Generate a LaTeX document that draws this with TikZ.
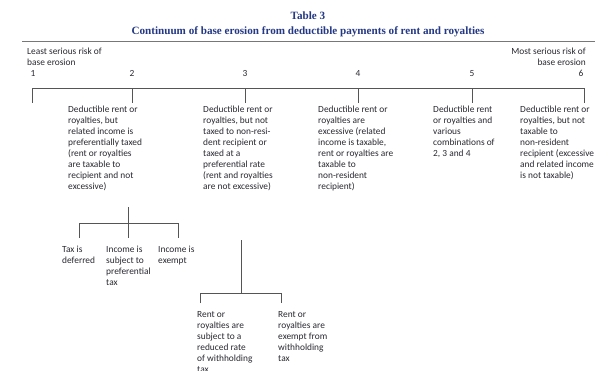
\documentclass[tikz,border=0pt]{standalone}
\usepackage{fontspec}
\setmainfont{Carlito}
\newfontfamily\titlefont{Liberation Serif}
\usepackage{xcolor}
\usepackage{tikz}
\usetikzlibrary{calc}
\usetikzlibrary{positioning}
\definecolor{titleblue}{RGB}{36,56,132}
\definecolor{txtgray}{RGB}{40,40,48}
\definecolor{linegray}{RGB}{85,85,85}
\tikzset{
	box/.style={anchor=north west,align=left,inner sep=0pt,text=txtgray,font=\fontsize{8}{9.4}\selectfont},
	num/.style={anchor=base,inner sep=0pt,text=txtgray,font=\fontsize{8}{9.4}\selectfont},
	hd/.style={anchor=base,inner sep=0pt,text=titleblue,font=\titlefont\bfseries\fontsize{9.5}{11}\selectfont},
	link/.style={line width=0.7pt,linegray},
}
\begin{document}
\begin{tikzpicture}[x=0.03cm,y=-0.03cm]
		\useasboundingbox (0,0) rectangle (599,370);
		\node[hd] (tbl) at (308,20) {Table 3};
		\node[hd] (ttl) at (308,35) {Continuum of base erosion from deductible payments of rent and royalties};
		\coordinate (rl) at (22,41.5);
		\coordinate (rr) at (595,41.5);
		\draw[line width=0.6pt,linegray!80] (rl)--(rr);
		\node[box] (least) at (27,47.5) {Least serious risk of\\base erosion};
		\node[box,anchor=north east,align=right] (most) at (586,47.5) {Most serious risk of\\base erosion};
		\node[num] (n1) at (33,77) {1};
		\node[num] (n2) at (132,77) {2};
		\node[num] (n3) at (245,77) {3};
		\node[num] (n4) at (358,77) {4};
		\node[num] (n5) at (472,77) {5};
		\node[num] (n6) at (581,77) {6};
		% scale line with ticks
		\foreach \i/\x in {1/32,2/132,3/245,4/358,5/472,6/584}{
			\coordinate (t\i) at (\x,88.5);
			\coordinate (d\i) at (\x,103.5);
			\draw[link] (t\i)--(d\i);
		}
		\draw[link] (t1)--(t6);
		\node[box] (b2) at (68,106) {Deductible rent or\\royalties, but\\related income is\\preferentially taxed\\(rent or royalties\\are taxable to\\recipient and not\\excessive)};
		\node[box] (b3) at (203,106) {Deductible rent or\\royalties, but not\\taxed to non-resi-\\dent recipient or\\taxed at a\\preferential rate\\(rent and royalties\\are not excessive)};
		\node[box] (b4) at (318,106) {Deductible rent or\\royalties are\\excessive (related\\income is taxable,\\rent or royalties are\\taxable to\\non-resident\\recipient)};
		\node[box] (b5) at (433,106) {Deductible rent\\or royalties and\\various\\combinations of\\2, 3 and 4};
		\node[box] (b6) at (520,106) {Deductible rent or\\royalties, but not\\taxable to\\non-resident\\recipient (excessive\\and related income\\is not taxable)};
		% branches under 2
		\coordinate (s2a) at (128,207);
		\coordinate (s2b) at (128,223);
		\coordinate (h2l) at (79,223);
		\coordinate (h2r) at (178,223);
		\coordinate (e2a) at (79,238);
		\coordinate (e2b) at (128,238);
		\coordinate (e2c) at (178,238);
		\draw[link] (s2a)--(e2b);
		\draw[link] (e2a)--(h2l)--(h2r)--(e2c);
		\node[box] (c1) at (62,246) {Tax is\\deferred};
		\node[box] (c2) at (106,246) {Income is\\subject to\\preferential\\tax};
		\node[box] (c3) at (158,246) {Income is\\exempt};
		% branches under 3
		\coordinate (s3a) at (241,240);
		\coordinate (s3b) at (241,293);
		\coordinate (h3l) at (200,293);
		\coordinate (h3r) at (281,293);
		\coordinate (e3a) at (200,303);
		\coordinate (e3b) at (281,303);
		\draw[link] (s3a)--(s3b);
		\draw[link] (e3a)--(h3l)--(h3r)--(e3b);
		\node[box] (g1) at (197,311) {Rent or\\royalties are\\subject to a\\reduced rate\\of withholding\\tax};
		\node[box] (g2) at (278,311) {Rent or\\royalties are\\exempt from\\withholding\\tax};
\end{tikzpicture}
\end{document}
